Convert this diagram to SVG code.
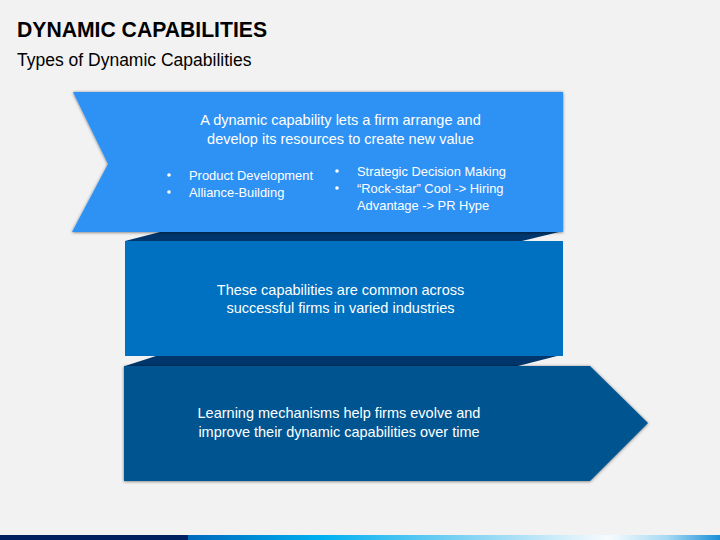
<svg xmlns="http://www.w3.org/2000/svg" width="720" height="540" viewBox="0 0 720 540">
  <style>
    .t { font-family: "Liberation Sans", Arial, sans-serif; fill: #ffffff; font-size: 14.5px; text-anchor: middle; }
    .b { font-family: "Liberation Sans", Arial, sans-serif; fill: #ffffff; font-size: 12.9px; }
    .title { font-family: "Liberation Sans", Arial, sans-serif; font-weight: bold; font-size: 22px; fill: #000000; }
    .sub { font-family: "Liberation Sans", Arial, sans-serif; font-size: 17.5px; fill: #000000; }
    .fold { fill: #00366B; }
  </style>
  <defs>
    <filter id="sh" x="-10%" y="-10%" width="120%" height="120%">
      <feDropShadow dx="0" dy="0.5" stdDeviation="1.4" flood-color="#000000" flood-opacity="0.55"/>
    </filter>
    <linearGradient id="bar" x1="0" y1="0" x2="1" y2="0">
      <stop offset="0" stop-color="#0068BC"/>
      <stop offset="0.25" stop-color="#00B0F0"/>
      <stop offset="0.55" stop-color="#8ED6F4"/>
      <stop offset="0.79" stop-color="#F8FBFE"/>
      <stop offset="0.9" stop-color="#A6DAF4"/>
      <stop offset="1" stop-color="#1A8FD8"/>
    </linearGradient>
  </defs>
  <rect x="0" y="0" width="720" height="540" fill="#F2F2F2"/>

  <g id="title">
    <text class="title" x="17" y="37" textLength="250" lengthAdjust="spacingAndGlyphs">DYNAMIC CAPABILITIES</text>
    <text class="sub" x="17" y="66">Types of Dynamic Capabilities</text>
  </g>

  <g id="connectors">
    <polygon class="fold" points="125,241 160,232 559,232 522,241"/>
    <polygon class="fold" points="125,366 156,356 557,356 518,366"/>
  </g>

  <g id="node1">
    <polygon points="73,92 563,92 563,232 72,232 108,164" fill="#2E92F5" filter="url(#sh)"/>
    <text class="t" x="340.5" y="125">A dynamic capability lets a firm arrange and</text>
    <text class="t" x="340.5" y="144">develop its resources to create new value</text>
    <circle cx="169" cy="175" r="1.8" fill="#ffffff"/>
    <circle cx="169" cy="192" r="1.8" fill="#ffffff"/>
    <text class="b" x="189" y="180">Product Development</text>
    <text class="b" x="189" y="197">Alliance-Building</text>
    <circle cx="337" cy="171" r="1.8" fill="#ffffff"/>
    <circle cx="337" cy="188" r="1.8" fill="#ffffff"/>
    <text class="b" x="357" y="176">Strategic Decision Making</text>
    <text class="b" x="357" y="193">“Rock-star” Cool -&gt; Hiring</text>
    <text class="b" x="357" y="210">Advantage -&gt; PR Hype</text>
  </g>

  <g id="node2">
    <rect x="125" y="241" width="438" height="115" fill="#0070C0"/>
    <text class="t" x="340.5" y="295">These capabilities are common across</text>
    <text class="t" x="340.5" y="313">successful firms in varied industries</text>
  </g>

  <g id="node3">
    <polygon points="124,366 590,366 648,423 590,481 124,481" fill="#005591" filter="url(#sh)"/>
    <text class="t" x="339" y="418">Learning mechanisms help firms evolve and</text>
    <text class="t" x="339" y="437">improve their dynamic capabilities over time</text>
  </g>

  <g id="footer">
    <rect x="0" y="535" width="188" height="5" fill="#002060"/>
    <rect x="188" y="535" width="532" height="5" fill="url(#bar)"/>
  </g>
</svg>
